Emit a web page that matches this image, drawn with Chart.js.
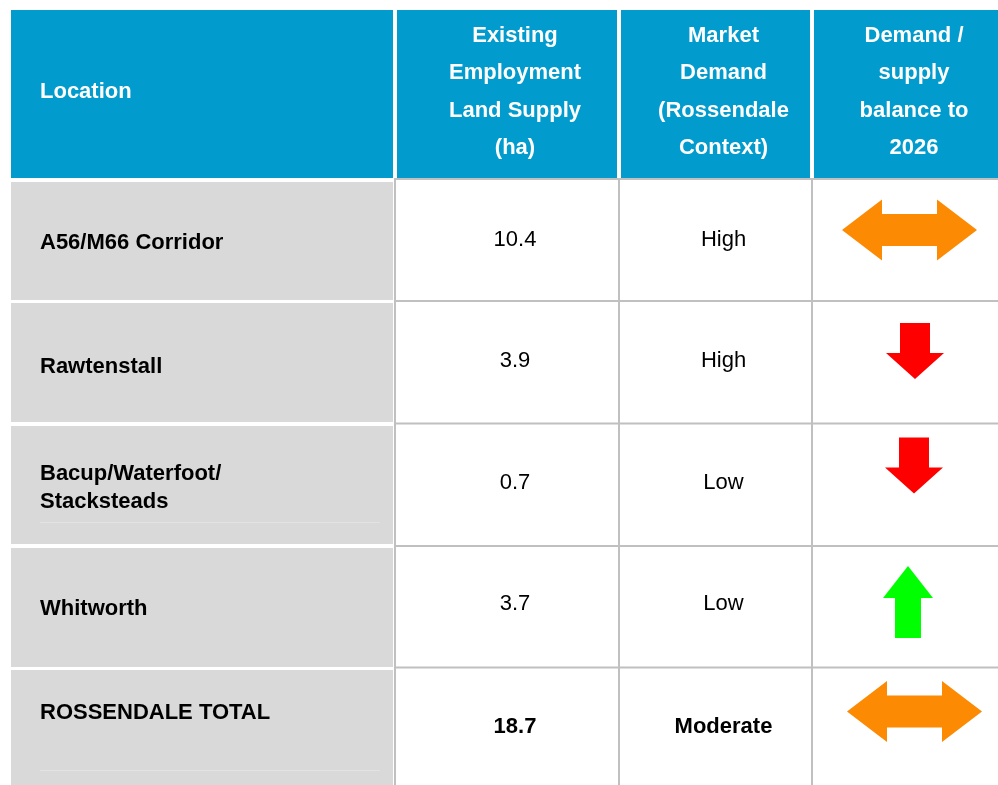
<!DOCTYPE html>
<html>
<head>
<meta charset="utf-8">
<script src="https://cdn.jsdelivr.net/npm/chart.js@4/dist/chart.umd.min.js"></script>
<style>
  html, body { margin: 0; padding: 0; background: #ffffff; }
  canvas { display: block; }
</style>
</head>
<body>
<canvas id="c" width="998" height="785"></canvas>
<script>
// ---------------- DATA ----------------
const headerLabels = [
  ['Location'],
  ['Existing', 'Employment', 'Land Supply', '(ha)'],
  ['Market', 'Demand', '(Rossendale', 'Context)'],
  ['Demand /', 'supply', 'balance to', '2026']
];
const locations = [
  ['A56/M66 Corridor'],
  ['Rawtenstall'],
  ['Bacup/Waterfoot/', 'Stacksteads'],
  ['Whitworth'],
  ['ROSSENDALE TOTAL']
];
const landSupply = [10.4, 3.9, 0.7, 3.7, 18.7];
const marketDemand = ['High', 'High', 'Low', 'Low', 'Moderate'];
const balance = ['both', 'down', 'down', 'up', 'both'];
const totalRowIndex = 4;

// ---------------- LAYOUT / STYLE ----------------
const COLS = [[11, 393], [397, 617], [621, 810], [814, 998]];
const HEADER = [10, 178];
const ROWS = [[182, 300], [303, 422], [426, 544], [548, 667], [670, 788]];
const HLINES = [179, 301, 423.5, 546, 667.5];
const VLINES = [395, 619, 812];
const TEXT_PAD = 8;        // text centre shift inside the white columns
const LABEL_X = 40;
const LABEL_DY = [0, 3, 1.5, 0, -18];
const VALUE_DY = [-3, -3.5, -4, -5, -4];
const ICON_NUDGE = [[-4.5, -11], [1, -11.5], [0, -19.5], [-6, -5.5], [0.5, -17.5]];
const ICON_SIZE = {
  both: { w: 135, h: 61, shaft: 32, head: 40 },
  down: { w: 58, h: 56, shaft: 30, head: 26 },
  up:   { w: 50, h: 72, shaft: 26, head: 32 }
};
const ICON_COLOR = { both: '#FC8A02', down: '#FF0000', up: '#00FF00' };
const FAINT_LINES = [[2, 522], [4, 770]];
const BLUE = '#019BCD';
const GREY = '#D9D9D9';
const RULE = '#C0C0C0';
const FONT = '"Liberation Sans", Arial, sans-serif';
const FS = 22;
const CAP = 0.716 * FS;

const tablePlugin = {
  id: 'tablePlugin',
  beforeDraw(chart) {
    const ctx = chart.ctx;
    const sx = chart.scales.x, sy = chart.scales.y;
    const px = v => sx.getPixelForValue(v);
    const py = v => sy.getPixelForValue(v);
    const rect = (x0, y0, x1, y1, color) => {
      ctx.fillStyle = color;
      ctx.fillRect(px(x0), py(y0), px(x1) - px(x0), py(y1) - py(y0));
    };
    const textAtCap = (str, x, capCenter, align, weight) => {
      ctx.font = weight + ' ' + FS + 'px ' + FONT;
      ctx.textAlign = align;
      ctx.textBaseline = 'alphabetic';
      ctx.fillText(str, px(x), py(capCenter) + CAP / 2);
    };

    ctx.save();
    ctx.fillStyle = '#ffffff';
    ctx.fillRect(0, 0, chart.width, chart.height);

    // header cells
    COLS.forEach(c => rect(c[0], HEADER[0], c[1], HEADER[1], BLUE));
    // grey first-column cells
    ROWS.forEach(r => rect(COLS[0][0], r[0], COLS[0][1], r[1], GREY));
    // faint lines inside grey cells
    FAINT_LINES.forEach(f => rect(LABEL_X, f[1], 380, f[1] + 1, '#E2E2E2'));
    // grid rules
    HLINES.forEach(y => rect(COLS[0][1] + 1, y - 1, 998, y + 1, RULE));
    VLINES.forEach(x => rect(x - 1, HEADER[1], x + 1, 788, RULE));

    // header text
    const headerMid = (HEADER[0] + HEADER[1]) / 2 - 4;
    const hLine = 37.25;
    headerLabels.forEach((lines, ci) => {
      ctx.fillStyle = '#ffffff';
      lines.forEach((ln, li) => {
        const cap = headerMid + (li - (lines.length - 1) / 2) * hLine;
        if (ci === 0) {
          textAtCap(ln, LABEL_X, cap, 'left', 'bold');
        } else {
          const cx = (COLS[ci][0] + COLS[ci][1]) / 2 + TEXT_PAD;
          textAtCap(ln, cx, cap, 'center', 'bold');
        }
      });
    });

    // body
    ROWS.forEach((r, ri) => {
      const mid = (r[0] + r[1]) / 2;
      ctx.fillStyle = '#000000';
      const lines = locations[ri];
      lines.forEach((ln, li) => {
        const cap = mid + LABEL_DY[ri] + (li - (lines.length - 1) / 2) * 28;
        textAtCap(ln, LABEL_X, cap, 'left', 'bold');
      });
      const w = ri === totalRowIndex ? 'bold' : 'normal';
      const vcap = mid + VALUE_DY[ri];
      textAtCap(landSupply[ri].toFixed(1), (COLS[1][0] + COLS[1][1]) / 2 + TEXT_PAD, vcap, 'center', w);
      textAtCap(marketDemand[ri], (COLS[2][0] + COLS[2][1]) / 2 + TEXT_PAD, vcap, 'center', w);

      // arrow icon
      const type = balance[ri];
      const s = ICON_SIZE[type];
      const cx = (COLS[3][0] + COLS[3][1]) / 2 + TEXT_PAD + ICON_NUDGE[ri][0];
      const cy = mid + ICON_NUDGE[ri][1];
      const L = cx - s.w / 2, R = cx + s.w / 2, T = cy - s.h / 2, B = cy + s.h / 2;
      let pts;
      if (type === 'both') {
        const st = cy - s.shaft / 2, sb = cy + s.shaft / 2;
        pts = [[L, cy], [L + s.head, T], [L + s.head, st], [R - s.head, st], [R - s.head, T],
               [R, cy], [R - s.head, B], [R - s.head, sb], [L + s.head, sb], [L + s.head, B]];
      } else if (type === 'down') {
        const sl = cx - s.shaft / 2, sr = cx + s.shaft / 2, hb = B - s.head;
        pts = [[sl, T], [sr, T], [sr, hb], [R, hb], [cx, B], [L, hb], [sl, hb]];
      } else {
        const sl = cx - s.shaft / 2, sr = cx + s.shaft / 2, hb = T + s.head;
        pts = [[cx, T], [R, hb], [sr, hb], [sr, B], [sl, B], [sl, hb], [L, hb]];
      }
      ctx.beginPath();
      pts.forEach((p, i) => {
        const X = px(p[0]), Y = py(p[1]);
        if (i === 0) ctx.moveTo(X, Y); else ctx.lineTo(X, Y);
      });
      ctx.closePath();
      ctx.fillStyle = ICON_COLOR[type];
      ctx.fill();
    });
    ctx.restore();
  }
};

new Chart(document.getElementById('c').getContext('2d'), {
  type: 'scatter',
  data: { datasets: [{ data: [], pointRadius: 0 }] },
  options: {
    responsive: false,
    animation: false,
    devicePixelRatio: 1,
    layout: { padding: 0 },
    events: [],
    plugins: { legend: { display: false }, tooltip: { enabled: false } },
    scales: {
      x: { type: 'linear', min: 0, max: 998, display: false },
      y: { type: 'linear', min: 0, max: 785, reverse: true, display: false }
    }
  },
  plugins: [tablePlugin]
});
</script>
</body>
</html>
